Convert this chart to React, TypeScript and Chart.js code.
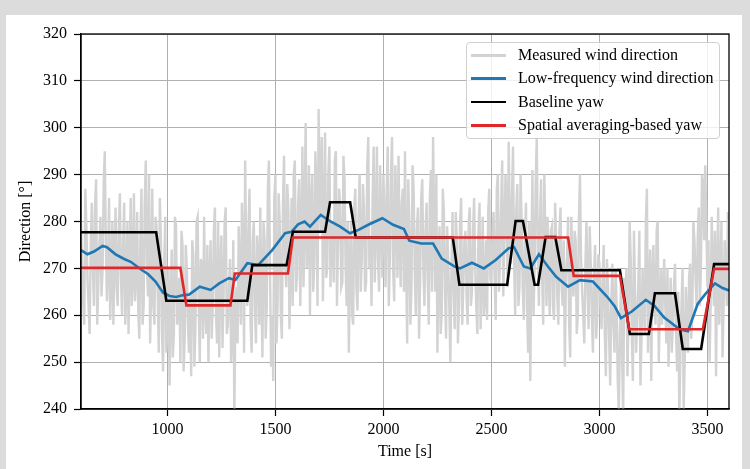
import React, { useEffect, useRef } from "react";
import { Chart, registerables } from "chart.js";
Chart.register(...registerables);

// ---------- data ----------
// measured wind direction, samples at 600, 610, ... 3600 s
const measuredStart = 600;
const measuredStep = 10;
const measuredValues = [
  280, 263, 287, 268, 256, 284, 262, 289, 266, 281,
  270, 295, 263, 285, 267, 258, 283, 262, 286, 260,
  284, 266, 256, 285, 268, 263, 282, 255, 287, 262,
  293, 264, 254, 287, 258, 279, 252, 276, 248, 281,
  259, 245, 274, 256, 279, 262, 250, 275, 255, 270,
  252, 247, 273, 258, 281, 250, 270, 281, 256, 250,
  276, 262, 283, 254, 251, 277, 264, 283, 258, 272,
  255, 238, 266, 279, 258, 275, 293, 262, 287, 252,
  280, 254, 272, 283, 251, 276, 262, 293, 249, 246,
  290, 262, 280, 255, 294, 266, 283, 270, 262, 293,
  268, 289, 275, 266, 301, 273, 260, 290, 271, 285,
  304, 278, 263, 299, 270, 296, 280, 267, 295, 275,
  283, 267, 289, 262, 252, 280, 258, 287, 261, 290,
  272, 283, 267, 298, 276, 285, 267, 296, 265, 280,
  290, 266, 296, 272, 298, 263, 284, 294, 266, 287,
  295, 254, 280, 266, 287, 260, 283, 267, 289, 262,
  284, 258, 291, 298, 265, 252, 279, 260, 282, 255,
  272, 250, 282, 257, 276, 262, 285, 266, 278, 258,
  283, 265, 285, 262, 278, 257, 281, 263, 259, 287,
  266, 282, 259, 290, 272, 293, 276, 285, 297, 271,
  296, 260, 288, 266, 280, 259, 284, 252, 246, 291,
  270, 298, 262, 289, 258, 276, 281, 260, 279, 259,
  276, 258, 283, 262, 249, 272, 258, 281, 264, 276,
  260, 290, 265, 254, 280, 257, 271, 252, 275, 260,
  271, 257, 275, 247, 266, 245, 271, 252, 262, 239,
  268, 238, 260, 247, 280, 256, 278, 252, 266, 245,
  270, 256, 287, 265, 246, 275, 258, 280, 262, 258,
  272, 254, 249, 268, 258, 271, 248, 238, 262, 240,
  266, 252, 271, 260, 276, 262, 283, 270, 288, 292,
  266, 250, 281, 262, 247, 283, 268, 251, 276, 262,
  270,
];
// measured wind direction, in-between samples at 605, 615, ... 3595 s
const measuredMidValues = [
  270, 258, 279, 262, 275, 270, 283, 258, 275, 264,
  288, 276, 270, 259, 280, 272, 266, 279, 268, 275,
  258, 280, 270, 262, 286, 268, 261, 277, 258, 284,
  271, 290, 266, 262, 281, 265, 285, 256, 270, 252,
  270, 262, 251, 281, 258, 268, 278, 248, 275, 258,
  264, 276, 249, 280, 262, 272, 255, 262, 275, 268,
  255, 278, 260, 280, 270, 253, 280, 256, 266, 250,
  276, 262, 254, 270, 284, 252, 270, 278, 258, 276,
  262, 277, 258, 265, 280, 255, 287, 270, 260, 285,
  254, 286, 260, 284, 272, 288, 257, 285, 290, 265,
  284, 262, 296, 280, 270, 292, 284, 265, 295, 262,
  290, 298, 280, 268, 290, 266, 276, 293, 262, 287,
  266, 294, 270, 280, 270, 260, 283, 266, 281, 265,
  288, 265, 292, 270, 262, 296, 278, 272, 292, 268,
  280, 286, 262, 290, 270, 292, 268, 276, 284, 265,
  272, 289, 258, 292, 270, 278, 255, 285, 270, 278,
  268, 285, 265, 280, 290, 270, 256, 287, 265, 279,
  262, 270, 266, 282, 254, 280, 258, 276, 264, 280,
  262, 278, 270, 256, 284, 268, 260, 276, 282, 268,
  276, 268, 287, 265, 283, 264, 290, 266, 280, 285,
  272, 282, 262, 290, 266, 276, 262, 280, 272, 260,
  288, 272, 280, 268, 290, 262, 270, 278, 262, 284,
  264, 278, 266, 276, 268, 281, 251, 270, 278, 256,
  280, 272, 260, 270, 266, 279, 260, 268, 255, 273,
  262, 268, 256, 272, 255, 263, 258, 270, 246, 256,
  252, 268, 270, 260, 272, 246, 265, 259, 278, 255,
  262, 280, 252, 274, 268, 262, 278, 250, 270, 266,
  262, 270, 260, 252, 266, 256, 265, 252, 270, 250,
  258, 268, 255, 280, 268, 276, 262, 290, 276, 280,
  276, 262, 270, 278, 270, 258, 280, 262, 270, 282,
];

const lowFreqTimes = [
  600, 630, 660, 700, 720, 760, 800, 830, 880, 910, 945, 980, 1010, 1040, 1075,
  1100, 1150, 1200, 1240, 1285, 1315, 1370, 1420, 1485, 1545, 1575, 1605, 1635,
  1660, 1710, 1755, 1800, 1845, 1885, 1930, 1995, 2045, 2095, 2120, 2175, 2230,
  2270, 2330, 2355, 2410, 2465, 2520, 2580, 2605, 2650, 2680, 2720, 2760, 2800,
  2855, 2910, 2970, 3035, 3070, 3100, 3150, 3215, 3255, 3300, 3335, 3370, 3410,
  3455, 3490, 3535, 3570, 3600,
];
const lowFreqValues = [
  273.9, 273.0, 273.6, 274.8, 274.5, 273.0, 272.0, 271.4, 269.7, 268.8, 267.2,
  264.8, 264.1, 263.9, 264.3, 264.4, 266.1, 265.4, 266.8, 267.9, 267.5, 271.1,
  270.7, 273.9, 277.5, 277.8, 279.4, 280.0, 278.9, 281.4, 280.0, 278.9, 277.5,
  278.2, 279.3, 280.7, 279.3, 278.4, 275.9, 275.3, 275.3, 272.1, 270.4, 270.0,
  271.2, 270.0, 271.8, 274.3, 274.5, 270.4, 270.0, 273.0, 270.5, 268.2, 266.1,
  267.5, 267.2, 264.0, 262.0, 259.4, 260.8, 263.3, 262.0, 259.5, 258.3, 257.0,
  256.6, 262.4, 264.5, 266.8, 265.8, 265.3,
];

const baselineTimes = [
  600, 948, 995, 1370, 1393, 1552, 1581, 1730, 1753, 1846, 1872, 2321, 2352,
  2573, 2612, 2646, 2700, 2716, 2751, 2796, 2824, 3095, 3141, 3229, 3257, 3350,
  3386, 3471, 3531, 3600,
];
const baselineValues = [
  277.7, 277.7, 263.1, 263.1, 270.7, 270.7, 277.8, 277.8, 284.1, 284.1, 276.6,
  276.6, 266.5, 266.5, 280.1, 280.1, 266.5, 266.5, 276.7, 276.7, 269.6, 269.6,
  256.0, 256.0, 264.7, 264.7, 252.8, 252.8, 270.9, 270.9,
];

const spatialTimes = [
  600, 1060, 1088, 1292, 1312, 1558, 1581, 2855, 2881, 3095, 3138, 3479, 3531,
  3600,
];
const spatialValues = [
  270.1, 270.1, 262.1, 262.1, 268.9, 268.9, 276.6, 276.6, 268.4, 268.4, 257.0,
  257.0, 269.9, 269.9,
];

const xTickValues = [1000, 1500, 2000, 2500, 3000, 3500];
const seriesLabels = [
  "Measured wind direction",
  "Low-frequency wind direction",
  "Baseline yaw",
  "Spatial averaging-based yaw",
];
const seriesColors = ["#d3d3d3", "#1f77b4", "#000000", "#e0282a"];

// ---------- helpers ----------
const zip = (xs: number[], ys: number[]) => ys.map((y, i) => ({ x: xs[i], y }));
const measuredPoints: { x: number; y: number }[] = [];
measuredValues.forEach((v, i) => {
  measuredPoints.push({ x: measuredStart + i * measuredStep, y: v });
  if (i < measuredMidValues.length) {
    measuredPoints.push({ x: measuredStart + i * measuredStep + measuredStep / 2, y: measuredMidValues[i] });
  }
});

const FONT = "'Liberation Serif', 'Times New Roman', serif";

const frameBorder = {
  id: "frameBorder",
  afterDatasetsDraw(chart: any) {
    const { ctx, chartArea } = chart;
    ctx.save();
    ctx.strokeStyle = "#000";
    ctx.lineWidth = 1.3;
    ctx.strokeRect(chartArea.left, chartArea.top, chartArea.right - chartArea.left, chartArea.bottom - chartArea.top);
    ctx.restore();
  },
};

export default function App() {
  const ref = useRef<HTMLCanvasElement>(null);

  useEffect(() => {
    Chart.defaults.font.family = FONT;
    Chart.defaults.font.size = 16;
    Chart.defaults.color = "#000";
    const chart = new Chart(ref.current!, {
      type: "line",
      data: {
        datasets: [
          { label: seriesLabels[0], data: measuredPoints, borderColor: seriesColors[0], borderWidth: 2.4, order: 4 },
          { label: seriesLabels[1], data: zip(lowFreqTimes, lowFreqValues), borderColor: seriesColors[1], borderWidth: 2.6, order: 3 },
          { label: seriesLabels[2], data: zip(baselineTimes, baselineValues), borderColor: seriesColors[2], borderWidth: 2.6, order: 2 },
          { label: seriesLabels[3], data: zip(spatialTimes, spatialValues), borderColor: seriesColors[3], borderWidth: 2.6, order: 1 },
        ],
      },
      options: {
        responsive: false,
        animation: false,
        devicePixelRatio: 1,
        elements: { point: { radius: 0 }, line: { tension: 0, borderJoinStyle: "miter" } },
        layout: { padding: { left: 0, top: 34, right: 21, bottom: 0 } },
        plugins: { legend: { display: false }, tooltip: { enabled: false } },
        scales: {
          x: {
            type: "linear",
            min: 600,
            max: 3600,
            afterBuildTicks: (s: any) => {
              s.ticks = xTickValues.map((v) => ({ value: v }));
            },
            afterFit: (s: any) => {
              s.height = 60;
            },
            ticks: { padding: 4, font: { size: 16, family: FONT }, color: "#000", maxRotation: 0, callback: (v: any) => String(v) },
            grid: { color: "#b0b0b0", lineWidth: 1, tickColor: "#000", tickLength: 7, tickWidth: 1.2 },
            border: { color: "#000", width: 1.3 },
            title: { display: true, text: "Time [s]", font: { size: 16, family: FONT }, color: "#000", padding: { top: 0, bottom: 8 } },
          },
          y: {
            min: 240,
            max: 320,
            afterFit: (s: any) => {
              s.width = 81;
            },
            ticks: { stepSize: 10, padding: 7, font: { size: 16, family: FONT }, color: "#000", callback: (v: any) => String(v) },
            grid: { color: "#b0b0b0", lineWidth: 1, tickColor: "#000", tickLength: 7, tickWidth: 1.2 },
            border: { color: "#000", width: 1.3 },
            title: { display: true, text: "Direction [°]", font: { size: 16, family: FONT }, color: "#000", padding: { top: 16, bottom: 0 } },
          },
        },
      },
      plugins: [frameBorder],
    } as any);
    return () => chart.destroy();
  }, []);

  return (
    <div style={{ position: "fixed", left: 0, top: 0, width: 750, height: 469, background: "#dcdcdc", overflow: "hidden" }}>
      <div style={{ position: "absolute", left: 6, top: 15, width: 736, height: 470, background: "#fff" }} />
      <canvas ref={ref} width={750} height={469} style={{ position: "absolute", left: 0, top: 0, width: 750, height: 469 }} />
      <div
        style={{
          position: "absolute",
          left: 466,
          top: 42,
          width: 254,
          height: 97,
          background: "rgba(255,255,255,0.8)",
          border: "1px solid #d0d0d0",
          borderRadius: 4,
          boxSizing: "border-box",
          fontFamily: FONT,
          fontSize: 16,
          color: "#000",
        }}
      >
        {seriesLabels.map((lab, i) => (
          <div key={lab} style={{ position: "absolute", left: 0, top: 1 + i * 23.4, height: 23, width: "100%" }}>
            <div style={{ position: "absolute", left: 4, top: 10, width: 35, height: 2.5, background: seriesColors[i] }} />
            <div style={{ position: "absolute", left: 51, top: 1, lineHeight: "20px", whiteSpace: "nowrap" }}>{lab}</div>
          </div>
        ))}
      </div>
    </div>
  );
}
